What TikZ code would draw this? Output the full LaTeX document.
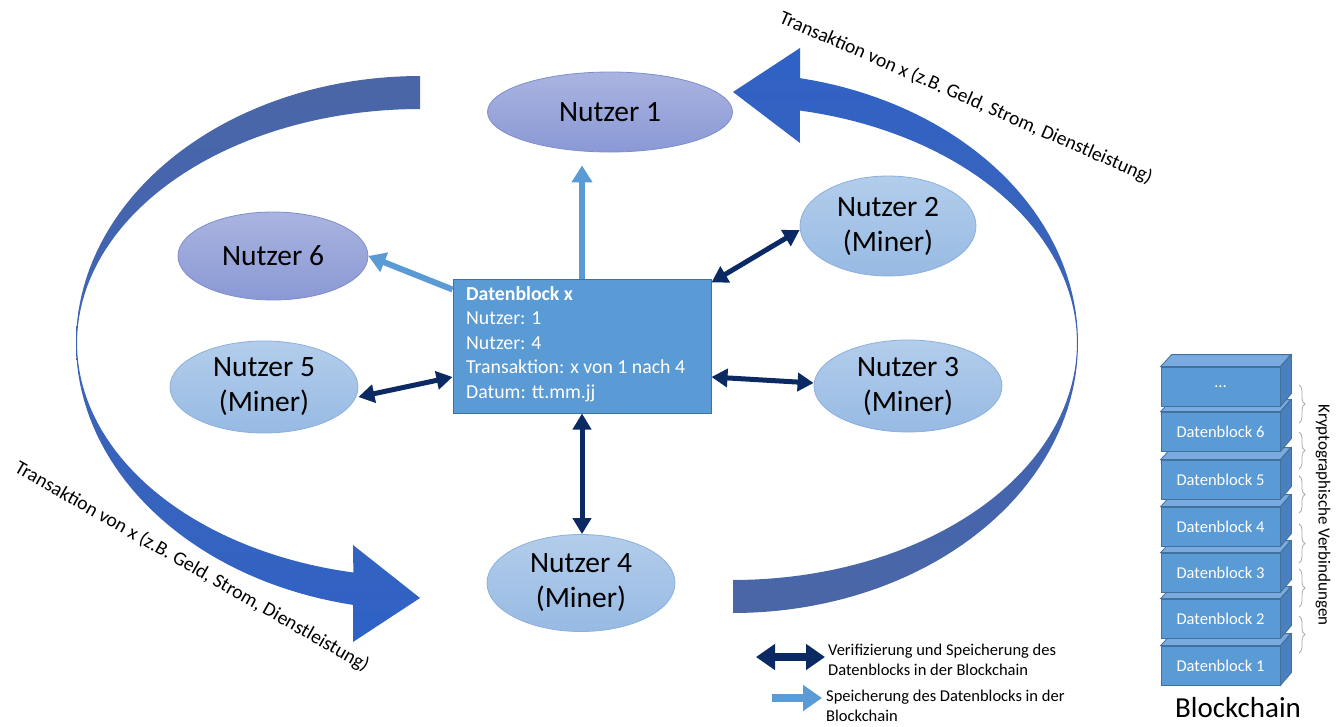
\documentclass[tikz,border=0pt]{standalone}
\usepackage{fontspec}
\setmainfont{Carlito}
\usetikzlibrary{arrows.meta,calc,decorations.pathreplacing,shapes.geometric}
\definecolor{nAt}{HTML}{AAB4E0}
\definecolor{nAb}{HTML}{8A99D5}
\definecolor{nAd}{HTML}{7E8ECC}
\definecolor{nBt}{HTML}{B3CDEB}
\definecolor{nBb}{HTML}{97BAE3}
\definecolor{nBd}{HTML}{8CB0DB}
\definecolor{boxf}{HTML}{5B9BD5}
\definecolor{boxd}{HTML}{41719C}
\definecolor{lblue}{HTML}{5B9BD5}
\definecolor{dblue}{HTML}{0B2A63}
\definecolor{arcS}{HTML}{4B66A6}
\definecolor{arcM}{HTML}{3A67BF}
\definecolor{arcB}{HTML}{2F62C6}
\definecolor{topf}{HTML}{7AAADF}
\definecolor{sidef}{HTML}{4A80BE}
\begin{document}
\begin{tikzpicture}[x=1pt,y=-1pt,
  nutA/.style={ellipse, inner sep=0pt, draw=nAd, line width=0.8pt, top color=nAt, bottom color=nAb, font=\fontsize{29.5}{35}\selectfont, align=center, text=black},
  nutB/.style={ellipse, inner sep=0pt, draw=nBd, line width=0.8pt, top color=nBt, bottom color=nBb, font=\fontsize{29.5}{35}\selectfont, align=center, text=black},
  lb/.style={line width=6pt, draw=lblue, -{Triangle[length=17pt,width=20pt]}},
  dk/.style={line width=5pt, draw=dblue, {Triangle[length=16pt,width=18pt]}-{Triangle[length=16pt,width=18pt]}},
  blk/.style={draw=boxd, line width=0.8pt, fill=boxf, minimum width=119pt, minimum height=39pt, inner sep=0pt, text=white, font=\fontsize{16.5}{19}\selectfont},
  topface/.style={draw=boxd, line width=0.8pt, fill=topf},
  sideface/.style={draw=boxd, line width=0.8pt, fill=sidef},
  brc/.style={decorate, decoration={brace, amplitude=6pt}, draw=gray!65, line width=0.8pt},
  lab/.style={font=\fontsize{19.6}{22}\selectfont, text=black, inner sep=0pt}
]
\useasboundingbox (0,0) rectangle (1342,726);
\fill[white] (0,0) rectangle (1342,726);

% big curved arrows
\shade[top color=arcS, middle color=arcM, bottom color=arcB]
  plot[domain=270:101.2, samples=90, variable=\t] ({420+344*cos(\t)},{343+267*sin(\t)})
  -- (353,642) -- (420,598) -- (353,545)
  -- plot[domain=101.2:270, samples=90, variable=\t] ({420+343*cos(\t)},{343+234*sin(\t)})
  -- cycle;
\shade[top color=arcB, middle color=arcM, bottom color=arcS]
  plot[domain=90:-78.8, samples=90, variable=\t] ({733+345*cos(\t)},{343+270*sin(\t)})
  -- (800,48) -- (733,92) -- (800,143)
  -- plot[domain=-78.8:90, samples=90, variable=\t] ({733+344*cos(\t)},{343+237*sin(\t)})
  -- cycle;

\node[lab, rotate=-23.5] (lab1) at (966,98) {Transaktion von x (z.B. Geld, Strom, Dienstleistung)};
\node[lab, rotate=-29.7] (lab2) at (192,567) {Transaktion von x (z.B. Geld, Strom, Dienstleistung)};

% users
\node[nutA, minimum width=245pt, minimum height=80pt] (n1) at (610,112) {Nutzer 1};
\node[nutA, minimum width=190pt, minimum height=88pt] (n6) at (273,256) {Nutzer 6};
\node[nutB, minimum width=176pt, minimum height=100pt] (n2) at (888,226) {Nutzer 2\\(Miner)};
\node[nutB, minimum width=188pt, minimum height=92pt] (n3) at (908,386) {Nutzer 3\\(Miner)};
\node[nutB, minimum width=188pt, minimum height=92pt] (n5) at (264,387) {Nutzer 5\\(Miner)};
\node[nutB, minimum width=188pt, minimum height=97pt] (n4) at (581,583) {Nutzer 4\\(Miner)};

% data block
\node[draw=boxd, fill=boxf, line width=1pt, minimum width=258pt, minimum height=134pt, inner sep=0pt] (box) at (582,346) {};
\node[anchor=north west, text=white, align=left, inner sep=0pt, font=\fontsize{19.8}{24.5}\selectfont] (boxt) at (466,286)
  {\textbf{Datenblock x}\\Nutzer: 1\\Nutzer: 4\\Transaktion: x von 1 nach 4\\Datum: tt.mm.jj};

% connectors
\draw[lb, shorten >=13pt] (box.north) -- (box.north |- n1.south);
\draw[lb] ([yshift=-11pt]box.north west) -- (n6.east);
\draw[dk] ([yshift=-4pt]box.north east) -- ([yshift=-4pt]n2.west);
\draw[dk] ([yshift=-31pt]box.east) -- ([yshift=3pt]n3.west);
\draw[dk] ([yshift=-31pt]box.west) -- ([yshift=-10pt]n5.east);
\draw[dk] (box.south) -- (box.south |- n4.north);

% legend
\coordinate (la1) at (756,657); \coordinate (la2) at (825,657);
\draw[line width=8pt, draw=dblue, {Triangle[length=19pt,width=25pt]}-{Triangle[length=19pt,width=25pt]}] (la1) -- (la2);
\coordinate (lb1) at (772,698); \coordinate (lb2) at (822,698);
\draw[line width=8pt, draw=lblue, -{Triangle[length=19pt,width=25pt]}] (lb1) -- (lb2);
\node[anchor=west, align=left, inner sep=0pt, font=\fontsize{16.5}{19.5}\selectfont] (lt1) at (828,660) {Verifizierung und Speicherung des\\Datenblocks in der Blockchain};
\node[anchor=west, align=left, inner sep=0pt, font=\fontsize{16.5}{20}\selectfont] (lt2) at (826,706) {Speicherung des Datenblocks in der\\Blockchain};

% blockchain stack
\foreach \i/\yt/\txt in {1/646/Datenblock 1, 2/599/Datenblock 2, 3/553/Datenblock 3, 4/507/Datenblock 4, 5/460/Datenblock 5, 6/412/Datenblock 6, 7/367/\ldots}{
  \node[blk] (b\i) at (1220.5,{\yt+19.5}) {\txt};
  \filldraw[topface] (b\i.north west) -- ++(11,-12) -- ++(119,0) -- (b\i.north east) -- cycle;
  \filldraw[sideface] (b\i.north east) -- ++(11,-12) -- ++(0,39) -- (b\i.south east) -- cycle;
}
\foreach \a/\b in {385/423, 432/469, 476/513, 524/563, 569/607, 616/653}
  \draw[brc] (1299,\a) -- (1299,\b);
\node[rotate=-90, inner sep=0pt, font=\fontsize{17}{20}\selectfont] (kv) at (1323,515) {Kryptographische Verbindungen};
\node[inner sep=0pt, font=\fontsize{29}{33}\selectfont] (bc) at (1238,708) {Blockchain};
\end{tikzpicture}
\end{document}
